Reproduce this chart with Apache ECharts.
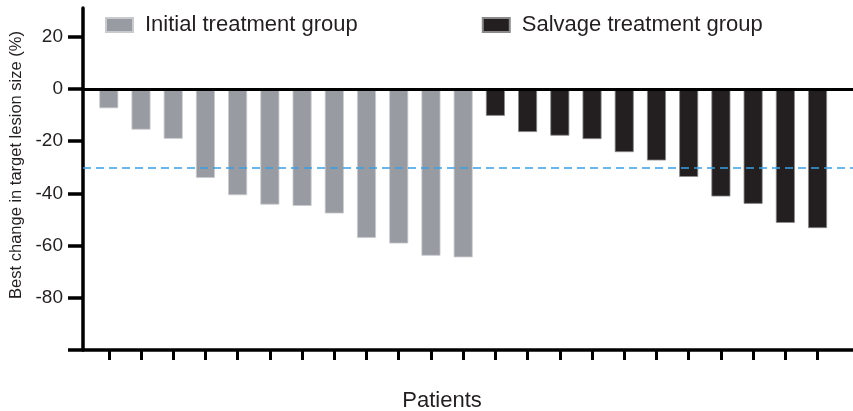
<!DOCTYPE html>
<html>
<head>
<meta charset="utf-8">
<script src="https://cdn.jsdelivr.net/npm/echarts@6/dist/echarts.min.js"></script>
<style>
html,body{margin:0;padding:0;background:#fff;}
#chart{width:853px;height:411px;}
</style>
</head>
<body>
<div id="chart"></div>
<script>
// Data
const seriesNames = ['Initial treatment group', 'Salvage treatment group'];
const initialValues = [-7.4, -15.6, -19.1, -34.1, -40.7, -44.3, -44.8, -47.7, -57.1, -59.2, -63.9, -64.5];
const salvageValues = [-10.3, -16.5, -17.9, -19.2, -24.2, -27.4, -33.7, -41.2, -44.0, -51.3, -53.3];
const yTickValues = [-100, -80, -60, -40, -20, 0, 20];
const yLabelValues = [-80, -60, -40, -20, 0, 20];
const responseThreshold = -30;

const patientPositions = [];
for (let i = 1; i <= initialValues.length + salvageValues.length; i++) patientPositions.push(i);
const initialData = initialValues.map((v, i) => [i + 1, v]);
const salvageData = salvageValues.map((v, i) => [initialValues.length + i + 1, v]);

const FONT = 'Liberation Sans, Arial, Helvetica, sans-serif';
const chart = echarts.init(document.getElementById('chart'), null, {renderer: 'canvas'});
chart.setOption({
  animation: false,
  backgroundColor: '#ffffff',
  textStyle: {fontFamily: FONT},
  grid: {left: 83, right: 0, top: 8, bottom: 61, containLabel: false, outerBoundsMode: 'none'},
  legend: {
    data: seriesNames,
    left: 105,
    top: 14,
    padding: 0,
    itemWidth: 27,
    itemHeight: 14,
    itemGap: 124,
    icon: 'rect',
    textStyle: {fontSize: 22, color: '#231f20', fontFamily: FONT, padding: [0, 0, 0, 7]}
  },
  xAxis: {
    type: 'value',
    min: 0.2,
    max: 24.1,
    name: 'Patients',
    nameLocation: 'middle',
    nameGap: 40,
    nameTextStyle: {fontSize: 22, color: '#231f20', fontFamily: FONT, padding: [0, 52, 0, 0]},
    axisLine: {show: true, onZero: false, lineStyle: {color: '#000', width: 3.5}},
    axisTick: {show: true, length: 10, customValues: patientPositions, lineStyle: {color: '#000', width: 3}},
    axisLabel: {show: false},
    splitLine: {show: false}
  },
  yAxis: {
    type: 'value',
    min: -100,
    max: 31,
    name: 'Best change in target lesion size (%)',
    nameLocation: 'middle',
    nameGap: 58,
    nameRotate: 90,
    nameTextStyle: {fontSize: 16.5, color: '#231f20', fontFamily: FONT, padding: [0, 0, 0, 28]},
    axisLine: {show: true, lineStyle: {color: '#000', width: 3.5}},
    axisTick: {show: true, length: 15, customValues: yTickValues, lineStyle: {color: '#000', width: 3.5}},
    axisLabel: {show: true, customValues: yLabelValues, margin: 20, fontSize: 19, color: '#231f20', fontFamily: FONT},
    splitLine: {show: false}
  },
  series: [
    {
      name: seriesNames[0],
      type: 'bar',
      data: initialData,
      barWidth: 19,
      barGap: '-100%',
      itemStyle: {color: '#989ba2', borderColor: '#c9cacd', borderWidth: 0.8},
      markLine: {
        silent: true,
        symbol: 'none',
        label: {show: false},
        data: [
          {yAxis: 0, lineStyle: {color: '#000', width: 3, type: 'solid'}},
          {yAxis: responseThreshold, lineStyle: {color: '#3a9ee4', width: 1.5, type: [8, 5]}}
        ]
      },
      z: 2
    },
    {
      name: seriesNames[1],
      type: 'bar',
      data: salvageData,
      barWidth: 19,
      barGap: '-100%',
      itemStyle: {color: '#231f20', borderColor: '#8a8a8a', borderWidth: 0.8},
      z: 2
    }
  ]
});
</script>
</body>
</html>
